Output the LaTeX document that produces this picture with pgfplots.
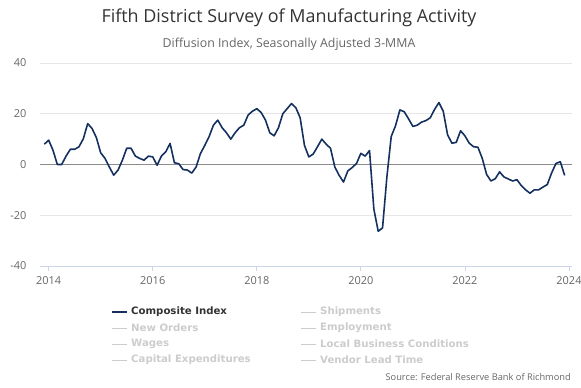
\documentclass[border=0pt]{standalone}
\usepackage{pgfplots}
\pgfplotsset{compat=1.18}
\usepackage{pgfplotstable}
\usepackage{fontspec}
\setmainfont{Open Sans}
\newfontfamily\legfont{DejaVu Sans}
\definecolor{navy}{RGB}{20,48,95}
\definecolor{gridc}{RGB}{230,230,230}
\definecolor{axisc}{RGB}{204,214,235}
\definecolor{zeroc}{RGB}{140,140,140}
\definecolor{txtc}{RGB}{102,102,102}
\definecolor{legc}{RGB}{204,204,204}
\pgfplotstableread{
m v
-1 8
0 9.6
1 5.6
2 0
3 0
4 3.3
5 6
6 6
7 7
8 10.2
9 16.1
10 14.2
11 10.6
12 4.6
13 2.4
14 -1
15 -4.2
16 -2.2
17 1.7
18 6.4
19 6.4
20 3.3
21 2.4
22 1.7
23 3.3
24 3
25 -0.3
26 3.3
27 5
28 8.3
29 0.7
30 0.3
31 -2
32 -2.2
33 -3.4
34 -1
35 4.3
36 7.5
37 11
38 15.5
39 17.5
40 14.5
41 12.5
42 10
43 12.5
44 14.5
45 15.5
46 19.5
47 21
48 22
49 20.5
50 17.5
51 12.5
52 11.3
53 14.5
54 20
55 22
56 24
57 22.4
58 18.4
59 7.5
60 3
61 4.1
62 7
63 10
64 8
65 6.4
66 -1
67 -4.3
68 -6.9
69 -2.5
70 -1.2
71 0.4
72 4.4
73 3.3
74 5.5
75 -17.6
76 -26.3
77 -25
78 -5
79 11
80 15.3
81 21.5
82 20.8
83 18
84 15
85 15.5
86 16.7
87 17.3
88 18.4
89 21.7
90 24.4
91 21
92 11.7
93 8.4
94 8.7
95 13.3
96 11.3
97 8.4
98 7
99 6.8
100 2.4
101 -3.9
102 -6.5
103 -5.6
104 -2.9
105 -4.9
106 -5.7
107 -6.5
108 -6
109 -8.3
110 -10
111 -11.3
112 -10
113 -10
114 -8.9
115 -7.9
116 -3.3
117 0.4
118 1.1
119 -4.3
}\composite
\begin{document}
\begin{tikzpicture}[x=1bp,y=1bp]
\useasboundingbox (0,0) rectangle (581,387);
\begin{axis}[
  at={(40bp,121bp)}, anchor=south west,
  scale only axis, width=532bp, height=203bp,
  xmin=-2, xmax=120.7, ymin=-40, ymax=40,
  xtick={0,24,48,72,96,120},
  xticklabels={2014,2016,2018,2020,2022,2024},
  ytick={-40,-20,0,20,40},
  ymajorgrids, grid style={gridc, line width=0.8pt},
  axis line style={draw=none},
  axis x line*=bottom,
  xtick style={axisc, line width=0.8pt},
  major tick length=5bp,
  xtick align=outside,
  ytick style={draw=none},
  tick label style={font=\fontsize{11}{13}\selectfont, text=txtc},
  /pgf/number format/assume math mode=true,
  yticklabel style={xshift=-10bp},
  xticklabel style={yshift=-2bp},
  clip=false,
]
\draw[axisc, line width=0.8pt] (axis cs:-2,-40) -- (axis cs:120.7,-40);
\draw[zeroc, line width=1pt] (axis cs:-2,0) -- (axis cs:120.7,0);
\addplot[navy, line width=1.6pt, line join=round] table[x=m,y=v] {\composite};
\end{axis}
\node[text=black!80, font=\fontsize{18}{21}\selectfont] at (289,369) {Fifth District Survey of Manufacturing Activity};
\node[text=txtc, font=\fontsize{12.4}{15}\selectfont] at (289,343) {Diffusion Index, Seasonally Adjusted 3-MMA};
% legend
\draw[navy, line width=1.6pt] (112,75) -- (127,75);
\node[anchor=west, inner sep=0, text=black!80, font=\legfont\fontsize{10.2}{13}\selectfont\bfseries] at (131,75) {Composite Index};
\foreach \yy/\txt in {59/New Orders, 43/Wages, 27/Capital Expenditures}{
  \draw[legc, line width=1pt] (112,\yy) -- (127,\yy);
  \node[anchor=west, inner sep=0, text=legc, font=\legfont\fontsize{10.2}{13}\selectfont\bfseries] at (131,\yy) {\txt};
}
\foreach \yy/\txt in {75/Shipments, 59/Employment, 43/Local Business Conditions, 27/Vendor Lead Time}{
  \draw[legc, line width=1pt] (301,\yy) -- (316,\yy);
  \node[anchor=west, inner sep=0, text=legc, font=\legfont\fontsize{10.2}{13}\selectfont\bfseries] at (320,\yy) {\txt};
}
\node[anchor=east, inner sep=0, text=txtc, font=\fontsize{9.3}{11}\selectfont] at (571,10) {Source: Federal Reserve Bank of Richmond};
\end{tikzpicture}
\end{document}
